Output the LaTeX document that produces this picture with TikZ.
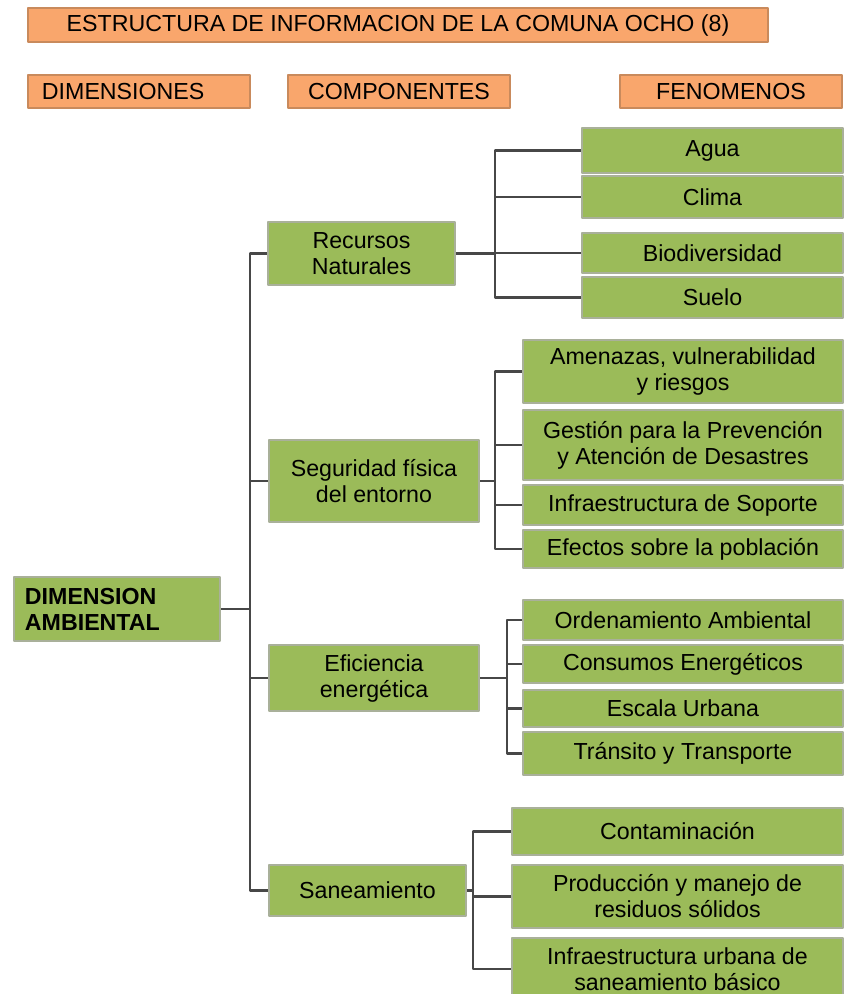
\documentclass[tikz,border=0pt]{standalone}
\usepackage{fontspec}
\setmainfont{Liberation Sans}
\usetikzlibrary{positioning}
\definecolor{verde}{HTML}{9BBB59}
\definecolor{naranja}{HTML}{F9A66C}
\definecolor{bordeV}{HTML}{A9B09A}
\definecolor{bordeN}{HTML}{C98A5C}
\tikzset{gbox/.style 2 args={draw=bordeV,line width=1.8pt,fill=verde,inner sep=0pt,align=center,minimum width=#1*0.025cm,minimum height=#2*0.025cm},
  obox/.style 2 args={draw=bordeN,line width=1.3pt,fill=naranja,inner sep=0pt,align=center,minimum width=#1*0.025cm,minimum height=#2*0.025cm},
  link/.style={draw=black!72,line width=1.5pt}}

\begin{document}
\begin{tikzpicture}[x=0.025cm,y=-0.025cm,font=\fontsize{16.5}{18.5}\selectfont,line join=round]
\path[use as bounding box] (0,0) rectangle (845,994);
\clip (0,0) rectangle (845,994);
% --- headers
\node[obox={740}{34}] (tit) at (398,25) {ESTRUCTURA DE INFORMACION DE LA COMUNA OCHO (8)};
\node[obox={222}{33},inner xsep=0.35cm,text width=4.85cm,align=left] (hdim) at (139,91.5) {DIMENSIONES};
\node[obox={222}{33}] (hcom) at (399,91.5) {COMPONENTES};
\node[obox={222}{33}] (hfen) at (731,91.5) {FENOMENOS};
% --- dimension and components
\node[gbox={206}{64},inner xsep=0.275cm,text width=4.6cm,align=left,font=\fontsize{16.5}{18.5}\selectfont\bfseries] (dim) at (117,609) {DIMENSION\\AMBIENTAL};
\node[gbox={187}{63}] (rn) at (361.5,253.5) {Recursos\\Naturales};
\node[gbox={210}{82}] (seg) at (374,481) {Seguridad física\\del entorno};
\node[gbox={210}{66}] (efi) at (374,678) {Eficiencia\\energética};
\node[gbox={197}{51}] (san) at (367.5,890.5) {Saneamiento};
% --- phenomena
\node[gbox={261}{45}] (agua) at (712.5,150.5) {Agua};
\node[gbox={261}{42}] (clima) at (712.5,197) {Clima};
\node[gbox={261}{40}] (bio) at (712.5,253) {Biodiversidad};
\node[gbox={261}{41}] (suelo) at (712.5,297.5) {Suelo};
\node[gbox={320}{63}] (ame) at (683,371.5) {Amenazas, vulnerabilidad\\y riesgos};
\node[gbox={320}{70}] (ges) at (683,445) {Gestión para la Prevención\\y Atención de Desastres};
\node[gbox={320}{40}] (inf) at (683,505) {Infraestructura de Soporte};
\node[gbox={320}{38}] (efe) at (683,549) {Efectos sobre la población};
\node[gbox={320}{40}] (ord) at (683,620) {Ordenamiento Ambiental};
\node[gbox={320}{38}] (con) at (683,664) {Consumos Energéticos};
\node[gbox={320}{37}] (esc) at (683,708.5) {Escala Urbana};
\node[gbox={320}{43}] (tra) at (683,753.5) {Tránsito y Transporte};
\node[gbox={331}{47}] (cont) at (677.5,831.5) {Contaminación};
\node[gbox={331}{63}] (prod) at (677.5,896.5) {Producción y manejo de\\residuos sólidos};
\node[gbox={331}{62}] (infu) at (677.5,969) {Infraestructura urbana de\\saneamiento básico};
% --- trunk
\coordinate (tr) at (250,0);
\draw[link] (dim.east) -- (dim.east -| tr);
\draw[link] (rn.west) -- (rn.west -| tr) |- (san.west);
\draw[link] (seg.west) -- (seg.west -| tr);
\draw[link] (efi.west) -- (efi.west -| tr);
% --- brackets
\coordinate (b1) at (495,0);
\draw[link] (rn.east) -- (rn.east -| b1);
\draw[link] (agua.west) -- (agua.west -| b1) |- (suelo.west);
\foreach \n in {clima,bio} {\draw[link] (\n.west) -- (\n.west -| b1);}
\coordinate (b2) at (495,0);
\draw[link] (seg.east) -- (seg.east -| b2);
\draw[link] (ame.west) -- (ame.west -| b2) |- (efe.west);
\foreach \n in {ges,inf} {\draw[link] (\n.west) -- (\n.west -| b2);}
\coordinate (b3) at (507,0);
\draw[link] (efi.east) -- (efi.east -| b3);
\draw[link] (ord.west) -- (ord.west -| b3) |- (tra.west);
\foreach \n in {con,esc} {\draw[link] (\n.west) -- (\n.west -| b3);}
\coordinate (b4) at (473,0);
\draw[link] (san.east) -- (san.east -| b4);
\draw[link] (cont.west) -- (cont.west -| b4) |- (infu.west);
\draw[link] (prod.west) -- (prod.west -| b4);
\end{tikzpicture}
\end{document}
